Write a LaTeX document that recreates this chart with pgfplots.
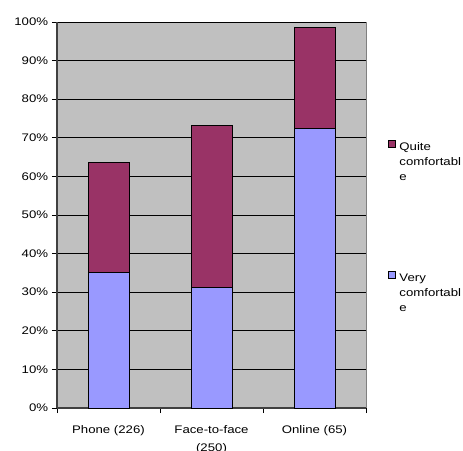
\documentclass[border=0pt]{standalone}
\usepackage{pgfplots}
\pgfplotsset{compat=1.18}
\usepackage{fontspec}
\setmainfont[FakeStretch=1.2]{Liberation Sans}
\definecolor{vcblue}{HTML}{9999FF}
\definecolor{qcred}{HTML}{993366}
\definecolor{plotgray}{HTML}{C0C0C0}
\begin{document}
\fontsize{11}{15}\selectfont
\begin{tikzpicture}
\useasboundingbox (0pt,0pt) rectangle (463pt,450pt);
\begin{axis}[
    at={(57pt,42pt)}, anchor=south west,
    width=309pt, height=386pt, scale only axis,
    ybar stacked, bar width=41pt,
    xmin=-0.5, xmax=2.5, ymin=0, ymax=100,
    axis lines*=left,
    axis line style={-, draw=black!75, line width=1.2pt},
    axis background/.style={fill=plotgray, draw=gray, line width=0.8pt},
    ymajorgrids, major grid style={black, line width=0.7pt},
    ytick={0,10,...,100},
    yticklabels={0\%,10\%,20\%,30\%,40\%,50\%,60\%,70\%,80\%,90\%,100\%},
    xtick={0,1,2},
    xticklabels={Phone (226),{Face-to-face\\(250)},Online (65)},
    xticklabel style={align=center, yshift=-9pt, font=\fontsize{11}{18}\selectfont},
    minor xtick={-0.5,0.5,1.5,2.5},
    tick align=outside,
    major tick length=5pt, minor tick length=5pt,
    major x tick style={draw=none},
    every tick/.style={black, line width=0.7pt},
    yticklabel style={font=\fontsize{11}{15}\selectfont},
    reverse legend,
    legend style={at={(1.0712,0.6943)}, anchor=north west, draw=none, fill=none,
        inner sep=0pt, row sep=89pt, column sep=0pt,
        nodes={inner sep=0pt}, cells={align=left},
        font=\fontsize{11}{15}\selectfont},
    legend image code/.code={\draw[#1, draw=black, line width=0.5pt] (0pt,15pt) rectangle (7pt,22pt);
        \path[draw=none, fill=none] (0pt,15pt) -- (11pt,15pt);},
    legend cell align=left,
]
\addplot[fill=vcblue, draw=black, line width=0.7pt] coordinates {(0,35.2) (1,31.3) (2,72.4)};
\addplot[fill=qcred, draw=black, line width=0.7pt] coordinates {(0,28.5) (1,42.0) (2,26.3)};
\legend{{Very\\comfortabl\\e},{Quite\\comfortabl\\e}}
\end{axis}
\end{tikzpicture}
\end{document}
